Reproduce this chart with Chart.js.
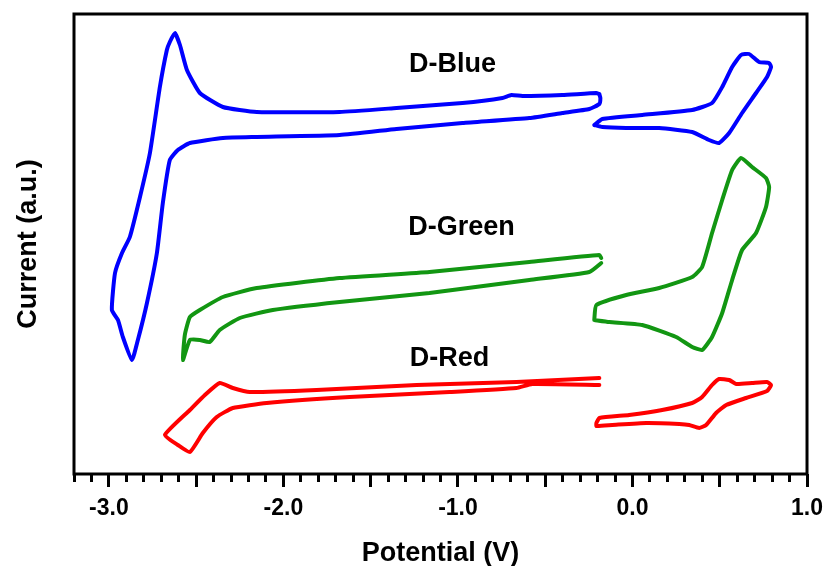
<!DOCTYPE html>
<html><head><meta charset="utf-8">
<script src="https://cdn.jsdelivr.net/npm/chart.js@4.4.1/dist/chart.umd.min.js"></script>
<style>html,body{margin:0;padding:0;background:#fff}#wrap{width:831px;height:566px}</style>
</head><body><div id="wrap"><canvas id="c" width="831" height="566"></canvas></div>
<script>
// Potential (V) and current (a.u.)
const blueNegX = [-0.190,-0.207,-0.402,-0.631,-0.694,-0.745,-0.974,-1.352,-1.678,-2.153,-2.347,-2.479,-2.553,-2.593,-2.622,-2.651,-2.668,-2.708,-2.765,-2.822,-2.880,-2.925,-2.965,-2.983,-2.948,-2.920,-2.868,-2.834,-2.782,-2.725,-2.691,-2.651,-2.605,-2.536,-2.347,-2.153,-1.678,-1.352,-0.974,-0.591,-0.402,-0.247,-0.190,-0.184,-0.190];
const blueNegY = [380,381,379,378,379,376,371,366,362,362,367,381,404,429,441,432,424,387,321,277,237,221,201,164,154,137,114,134,171,221,271,314,324,331,336,337,339,345,351,356,361,365,370,376,380];
const bluePosX = [-0.219,-0.173,0.056,0.342,0.456,0.514,0.571,0.622,0.668,0.725,0.783,0.794,0.771,0.708,0.628,0.554,0.496,0.439,0.342,0.153,-0.036,-0.173,-0.219];
const bluePosY = [349,355,359,364,371,387,407,419,420,412,411,407,397,381,361,341,331,334,342,346,346,347,349];

const greenNegX = [-0.179,-0.190,-0.591,-1.163,-1.678,-2.153,-2.347,-2.479,-2.536,-2.565,-2.576,-2.536,-2.479,-2.422,-2.365,-2.250,-2.061,-1.678,-1.163,-0.591,-0.247,-0.179];
const greenNegY = [216,219,212,202,196,186,177,164,157,139,114,134,134,132,144,156,164,172,181,194,202,211];
const greenPosX = [-0.219,-0.207,-0.036,0.153,0.342,0.399,0.456,0.514,0.571,0.622,0.685,0.765,0.783,0.765,0.708,0.628,0.571,0.514,0.456,0.399,0.342,0.250,0.056,-0.133,-0.219];
const greenPosY = [154,169,179,186,197,207,241,274,304,316,307,296,287,267,241,224,194,161,137,124,127,137,149,152,154];

const redNegX = [-0.190,-0.665,-1.237,-1.810,-2.193,-2.290,-2.365,-2.450,-2.536,-2.679,-2.605,-2.536,-2.462,-2.382,-2.290,-2.096,-1.621,-1.048,-0.665,-0.574,-0.190];
const redNegY = [96,92,89,84,82,86,91,79,64,39,29,22,41,57,66,71,77,82,86,90,89];
const redPosX = [-0.207,-0.190,-0.019,0.170,0.342,0.399,0.456,0.496,0.554,0.594,0.685,0.771,0.794,0.771,0.651,0.537,0.479,0.422,0.382,0.325,0.268,0.079,-0.116,-0.207,-0.207];
const redPosY = [51,56,59,64,71,77,89,95,94,90,91,92,89,83,76,69,61,49,46,49,50,51,49,48,51];

const seriesNames = ['D-Blue','D-Green','D-Red'];
const labelAnchorsX = [-1.031,-0.980,-1.049];
const labelAnchorsY = [409,246,115];
const xMin = -3.2, xMax = 1.0, yMin = 0, yMax = 460;

const BLUE = '#0000ff', GREEN = '#129612', RED = '#ff0000';
const FONT = "'Liberation Sans', Arial, sans-serif";
const pts = (xs, ys) => xs.map((x, i) => ({x: x, y: ys[i]}));
const ds = (label, xs, ys, color) => ({label, data: pts(xs, ys), borderColor: color, backgroundColor: color,
  showLine: true, pointRadius: 0, borderWidth: 4, tension: 0.15, fill: false, borderJoinStyle: 'round', borderCapStyle: 'round'});

const framePlugin = {
  id: 'frame',
  afterDraw(chart) {
    const {ctx, chartArea: a} = chart;
    ctx.save(); ctx.strokeStyle = '#000'; ctx.lineWidth = 3;
    ctx.strokeRect(a.left, a.top, a.right - a.left, a.bottom - a.top);
    ctx.restore();
  }
};
const namePlugin = {
  id: 'names',
  afterDatasetsDraw(chart) {
    const {ctx, scales: {x, y}} = chart;
    ctx.save(); ctx.fillStyle = '#000'; ctx.font = "bold 27px " + FONT;
    ctx.textAlign = 'center'; ctx.textBaseline = 'middle';
    seriesNames.forEach((n, i) => ctx.fillText(n, x.getPixelForValue(labelAnchorsX[i]), y.getPixelForValue(labelAnchorsY[i])));
    ctx.restore();
  }
};

new Chart(document.getElementById('c'), {
  type: 'scatter',
  data: { datasets: [
    ds('D-Blue', blueNegX, blueNegY, BLUE), ds('D-Blue', bluePosX, bluePosY, BLUE),
    ds('D-Green', greenNegX, greenNegY, GREEN), ds('D-Green', greenPosX, greenPosY, GREEN),
    ds('D-Red', redNegX, redNegY, RED), ds('D-Red', redPosX, redPosY, RED)
  ]},
  options: {
    responsive: false, animation: false, devicePixelRatio: 1,
    layout: { padding: {top: 14, right: 23, bottom: 0, left: 0} },
    plugins: { legend: {display: false}, tooltip: {enabled: false} },
    scales: {
      x: {
        type: 'linear', position: 'bottom', weight: 1, min: xMin, max: xMax,
        ticks: { stepSize: 0.5, includeBounds: false, autoSkip: false, maxRotation: 0, padding: 8, color: '#000',
          font: {family: FONT, size: 23, weight: 'bold'},
          callback: v => Math.abs(v - Math.round(v)) < 1e-6 ? v.toFixed(1) : '' },
        grid: { drawOnChartArea: false, drawTicks: true, tickLength: 13, tickWidth: 3, tickColor: '#000' },
        border: { display: false },
        title: { display: true, text: 'Potential (V)', color: '#000', font: {family: FONT, size: 27, weight: 'bold'}, padding: {top: 0, bottom: -4} },
        afterFit: s => { s.height = 92; }
      },
      xMinor: {
        type: 'linear', position: 'bottom', weight: 0, min: xMin, max: xMax,
        ticks: { stepSize: 0.1, display: false, autoSkip: false },
        grid: { drawOnChartArea: false, drawTicks: true, tickLength: 8, tickWidth: 3, tickColor: '#000' },
        border: { display: false },
        afterFit: s => { s.height = 0; }
      },
      y: {
        min: yMin, max: yMax,
        ticks: { display: false },
        grid: { display: false },
        border: { display: false },
        title: { display: true, text: 'Current (a.u.)', color: '#000', font: {family: FONT, size: 27, weight: 'bold'}, padding: {top: 12, bottom: 0} },
        afterFit: s => { s.width = 74; }
      }
    }
  },
  plugins: [framePlugin, namePlugin]
});
</script></body></html>
